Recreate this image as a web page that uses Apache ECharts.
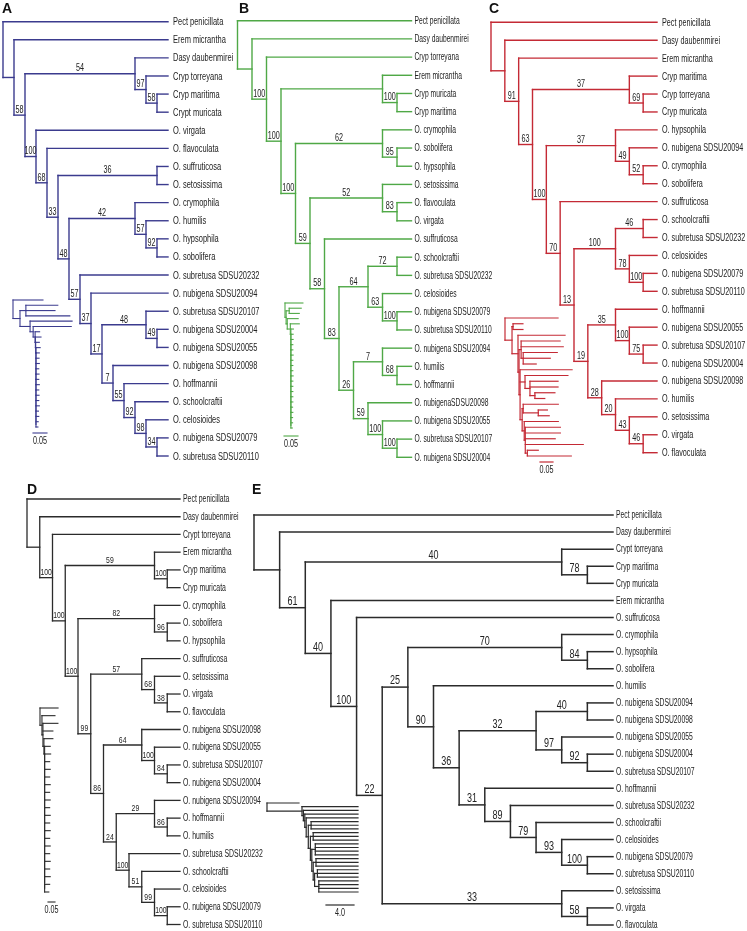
<!DOCTYPE html>
<html><head><meta charset="utf-8">
<script src="https://cdn.jsdelivr.net/npm/echarts@6/dist/echarts.min.js"></script>
<style>html,body{margin:0;padding:0;background:#fff}#c{width:747px;height:931px}</style>
</head><body><div id="c"></div>
<script>
// ---------- DATA: cladograms, rows = [node, parent, bootstrap support] ----------
const treeA = [
['#0',null,''],['Pect penicillata','#0',''],['#1','#0',''],['Erem micrantha','#1',''],
['#2','#1','58'],['#3','#2','54'],['Dasy daubenmirei','#3',''],['#5','#3','97'],['Cryp torreyana','#5',''],
['#6','#5','58'],['Cryp maritima','#6',''],['Crypt muricata','#6',''],
['#4','#2','100'],['O. virgata','#4',''],['#7','#4','68'],['O. flavoculata','#7',''],['#8','#7','33'],
['#9','#8','36'],['O. suffruticosa','#9',''],['O. setosissima','#9',''],
['#10','#8','48'],['#11','#10','42'],['O. crymophila','#11',''],['#13','#11','57'],['O. humilis','#13',''],
['#14','#13','92'],['O. hypsophila','#14',''],['O. sobolifera','#14',''],
['#12','#10','57'],['O. subretusa SDSU20232','#12',''],['#15','#12','37'],['O. nubigena SDSU20094','#15',''],
['#16','#15','17'],['#17','#16','48'],['O. subretusa SDSU20107','#17',''],['#19','#17','49'],
['O. nubigena SDSU20004','#19',''],['O. nubigena SDSU20055','#19',''],
['#18','#16','7'],['O. nubigena SDSU20098','#18',''],['#20','#18','55'],['O. hoffmannii','#20',''],
['#21','#20','92'],['O. schoolcraftii','#21',''],['#22','#21','98'],['O. celosioides','#22',''],
['#23','#22','34'],['O. nubigena SDSU20079','#23',''],['O. subretusa SDSU20110','#23','']
];
const treeB = [
['#0',null,''],['Pect penicillata','#0',''],['#1','#0',''],['Dasy daubenmirei','#1',''],
['#2','#1','100'],['Cryp torreyana','#2',''],['#3','#2','100'],['#4','#3',''],['Erem micrantha','#4',''],
['#5','#4','100'],['Cryp muricata','#5',''],['Cryp maritima','#5',''],
['#6','#3','100'],['#7','#6','62'],['O. crymophila','#7',''],['#8','#7','95'],['O. sobolifera','#8',''],['O. hypsophila','#8',''],
['#9','#6','59'],['#10','#9','52'],['O. setosissima','#10',''],['#11','#10','83'],['O. flavoculata','#11',''],['O. virgata','#11',''],
['#12','#9','58'],['O. suffruticosa','#12',''],['#13','#12','83'],['#14','#13','64'],['#15','#14','72'],
['O. schoolcraftii','#15',''],['O. subretusa SDSU20232','#15',''],['#16','#14','63'],['O. celosioides','#16',''],
['#17','#16','100'],['O. nubigena SDSU20079','#17',''],['O. subretusa SDSU20110','#17',''],
['#18','#13','26'],['#19','#18','7'],['O. nubigena SDSU20094','#19',''],['#20','#19','68'],['O. humilis','#20',''],['O. hoffmannii','#20',''],
['#21','#18','59'],['O. nubigenaSDSU20098','#21',''],['#22','#21','100'],['O. nubigena SDSU20055','#22',''],
['#23','#22','100'],['O. subretusa SDSU20107','#23',''],['O. nubigena SDSU20004','#23','']
];
const treeC = [
['#0',null,''],['Pect penicillata','#0',''],['#1','#0',''],['Dasy daubenmirei','#1',''],
['#2','#1','91'],['Erem micrantha','#2',''],['#3','#2','63'],['#4','#3','37'],['Cryp maritima','#4',''],
['#5','#4','69'],['Cryp torreyana','#5',''],['Cryp muricata','#5',''],
['#6','#3','100'],['#7','#6','37'],['O. hypsophila','#7',''],['#8','#7','49'],['O. nubigena SDSU20094','#8',''],
['#9','#8','52'],['O. crymophila','#9',''],['O. sobolifera','#9',''],
['#10','#6','70'],['O. suffruticosa','#10',''],['#11','#10','13'],['#12','#11','100'],['#13','#12','46'],
['O. schoolcraftii','#13',''],['O. subretusa SDSU20232','#13',''],['#14','#12','78'],['O. celosioides','#14',''],
['#15','#14','100'],['O. nubigena SDSU20079','#15',''],['O. subretusa SDSU20110','#15',''],
['#16','#11','19'],['#17','#16','35'],['O. hoffmannii','#17',''],['#18','#17','100'],['O. nubigena SDSU20055','#18',''],
['#19','#18','75'],['O. subretusa SDSU20107','#19',''],['O. nubigena SDSU20004','#19',''],
['#20','#16','28'],['O. nubigena SDSU20098','#20',''],['#21','#20','20'],['O. humilis','#21',''],
['#22','#21','43'],['O. setosissima','#22',''],['#23','#22','46'],['O. virgata','#23',''],['O. flavoculata','#23','']
];
const treeD = [
['#0',null,''],['Pect penicillata','#0',''],['#1','#0',''],['Dasy daubenmirei','#1',''],
['#2','#1','100'],['Crypt torreyana','#2',''],['#3','#2','100'],['#4','#3','59'],['Erem micrantha','#4',''],
['#5','#4','100'],['Cryp maritima','#5',''],['Cryp muricata','#5',''],
['#6','#3','100'],['#7','#6','82'],['O. crymophila','#7',''],['#8','#7','96'],['O. sobolifera','#8',''],['O. hypsophila','#8',''],
['#9','#6','99'],['#10','#9','57'],['O. suffruticosa','#10',''],['#11','#10','68'],['O. setosissima','#11',''],
['#12','#11','38'],['O. virgata','#12',''],['O. flavoculata','#12',''],
['#13','#9','86'],['#14','#13','64'],['O. nubigena SDSU20098','#14',''],['#15','#14','100'],['O. nubigena SDSU20055','#15',''],
['#16','#15','84'],['O. subretusa SDSU20107','#16',''],['O. nubigena SDSU20004','#16',''],
['#17','#13','24'],['#18','#17','29'],['O. nubigena SDSU20094','#18',''],['#19','#18','86'],['O. hoffmannii','#19',''],['O. humilis','#19',''],
['#20','#17','100'],['O. subretusa SDSU20232','#20',''],['#21','#20','51'],['O. schoolcraftii','#21',''],
['#22','#21','99'],['O. celosioides','#22',''],['#23','#22','100'],['O. nubigena SDSU20079','#23',''],['O. subretusa SDSU20110','#23','']
];
const treeE = [
['#0',null,''],['Pect penicillata','#0',''],['#1','#0',''],['Dasy daubenmirei','#1',''],
['#2','#1','61'],['#3','#2','40'],['Crypt torreyana','#3',''],['#5','#3','78'],['Cryp maritima','#5',''],['Cryp muricata','#5',''],
['#4','#2','40'],['Erem micrantha','#4',''],['#6','#4','100'],['O. suffruticosa','#6',''],['#7','#6','22'],
['#8','#7','25'],['#10','#8','70'],['O. crymophila','#10',''],['#12','#10','84'],['O. hypsophila','#12',''],['O. sobolifera','#12',''],
['#11','#8','90'],['O. humilis','#11',''],['#13','#11','36'],['#14','#13','32'],['#16','#14','40'],
['O. nubigena SDSU20094','#16',''],['O. nubigena SDSU20098','#16',''],['#17','#14','97'],['O. nubigena SDSU20055','#17',''],
['#18','#17','92'],['O. nubigena SDSU20004','#18',''],['O. subretusa SDSU20107','#18',''],
['#15','#13','31'],['O. hoffmannii','#15',''],['#19','#15','89'],['O. subretusa SDSU20232','#19',''],['#20','#19','79'],
['O. schoolcraftii','#20',''],['#21','#20','93'],['O. celosioides','#21',''],['#22','#21','100'],
['O. nubigena SDSU20079','#22',''],['O. subretusa SDSU20110','#22',''],
['#9','#7','33'],['O. setosissima','#9',''],['#23','#9','58'],['O. virgata','#23',''],['O. flavoculata','#23','']
];
// ---------- DATA: inset phylograms, rows = [node, parent, branch length] ----------
const physA = [
['r',null,0],['k0','r',0.107],['n1','r',0.025],['a','n1',0.021],['k1','a',0.114],['k2','a',0.104],['k3','a',0.157],
['n2','n1',0.036],['k4','n2',0.15],['n3','n2',0.011],['k5','n3',0.136],['c1','n3',0.007],
['u1','c1',0.016],['c2','c1',0.001],['u2','c2',0.02],['c3','c2',0.001],['u3','c3',0.013],['c4','c3',0.001],['u4','c4',0.015],
['c5','c4',0.0],['u5','c5',0.012],['c6','c5',0.0],['u6','c6',0.011],['c7','c6',0.0],['u7','c7',0.012],['c8','c7',0.0],['u8','c8',0.01],
['c9','c8',0.0],['u9','c9',0.011],['c10','c9',0.0],['u10','c10',0.01],['c11','c10',0.0],['u11','c11',0.012],['c12','c11',0.0],['u12','c12',0.01],
['c13','c12',0.0],['u13','c13',0.011],['c14','c13',0.0],['u14','c14',0.01],['c15','c14',0.0],['u15','c15',0.012],['c16','c15',0.0],['u16','c16',0.009],
['c17','c16',0.0],['u17','c17',0.01],['c18','c17',0.0],['u18','c18',0.008],['u19','c18',0.007]
];
const physB = [
['r',null,0],['k0','r',0.064],['n1','r',0.004],['a','n1',0.011],['k1','a',0.043],['k2','a',0.036],
['n2','n1',0.004],['k3','n2',0.039],['n3','n2',0.011],['k4','n3',0.032],['c1','n3',0.002],
['u1','c1',0.009],['c2','c1',0.0],['u2','c2',0.008],['c3','c2',0.0],['u3','c3',0.008],['c4','c3',0.0],['u4','c4',0.007],
['c5','c4',0.0],['u5','c5',0.007],['c6','c5',0.0],['u6','c6',0.008],['c7','c6',0.0],['u7','c7',0.007],['c8','c7',0.0],['u8','c8',0.007],
['c9','c8',0.0],['u9','c9',0.007],['c10','c9',0.0],['u10','c10',0.008],['c11','c10',0.0],['u11','c11',0.007],['c12','c11',0.0],['u12','c12',0.007],
['c13','c12',0.0],['u13','c13',0.007],['c14','c13',0.0],['u14','c14',0.007],['c15','c14',0.0],['u15','c15',0.007],['c16','c15',0.0],['u16','c16',0.006],
['c17','c16',0.0],['u17','c17',0.007],['c18','c17',0.0],['u18','c18',0.006],['c19','c18',0.0],['u19','c19',0.006],['u20','c19',0.005]
];
const physC = [
['r',null,0],['k0','r',0.204],['n1','r',0.027],
['a','n1',0.004],['k1','a',0.038],['k2','a',0.038],
['b','n1',0.023],['k3','b',0.181],['c','b',0.004],
['d','c',0.008],['k4','d',0.15],['k5','d',0.162],['f','d',0.008],['k6','f',0.131],['k7','f',0.104],['k8','f',0.05],
['e','c',0.004],['k9','e',0.2],['g','e',0.019],['k10','g',0.165],['i','g',0.019],['k11','i',0.108],['k12','i',0.108],
['j','i',0.019],['k13','j',0.077],['k14','j',0.038],
['h','e',0.008],['m','h',0.004],['k15','m',0.135],['o','m',0.058],['k16','o',0.035],['k17','o',0.042],
['nn','h',0.008],['k18','nn',0.131],['p','nn',0.004],['k19','p',0.135],['k20','p',0.135],['k21','p',0.115],['k22','p',0.223],
['q','p',0.008],['k23','q',0.042],['k24','q',0.169]
];
const physD = [
['r',null,0],['k0','r',0.129],['n1','r',0.014],['k1','n1',0.093],['n2','n1',0.007],['k2','n2',0.107],['k3','n2',0.071],
['n3','n2',0.007],['k4','n3',0.064],['c1','n3',0.005],
['u1','c1',0.04],['c2','c1',0.0],['u2','c2',0.043],['c3','c2',0.0],['u3','c3',0.036],['c4','c3',0.0],['u4','c4',0.04],
['c5','c4',0.0],['u5','c5',0.036],['c6','c5',0.0],['u6','c6',0.04],['c7','c6',0.0],['u7','c7',0.036],['c8','c7',0.0],['u8','c8',0.04],
['c9','c8',0.0],['u9','c9',0.036],['c10','c9',0.0],['u10','c10',0.04],['c11','c10',0.0],['u11','c11',0.036],['c12','c11',0.0],['u12','c12',0.04],
['c13','c12',0.0],['u13','c13',0.036],['c14','c13',0.0],['u14','c14',0.04],['c15','c14',0.0],['u15','c15',0.036],['c16','c15',0.0],['u16','c16',0.04],
['c17','c16',0.0],['u17','c17',0.036],['c18','c17',0.0],['u18','c18',0.04],['c19','c18',0.0],['u19','c19',0.036],['u20','c19',0.03]
];
const physE = [
['r',null,0],['t0','r',4.57],['B','r',5.0],['t1','B',8.0],['C','B',0.2],['t2','C',7.8],['D','C',0.2],['t3','D',7.6],
['Ea','D',0.2],['t4','Ea',7.4],['F','Ea',0.3],['G','F',0.4],['t5','G',6.7],['t6','G',6.7],['t7','G',6.7],
['H','F',0.3],['I','H',0.4],['t8','I',6.4],['t9','I',6.4],['t10','I',6.4],['J','H',0.2],['K','J',0.5],
['t11','K',6.1],['t12','K',6.1],['t13','K',6.1],['t14','K',6.1],['L','J',0.2],['M','L',0.4],['t15','M',6.0],['t16','M',6.0],['t17','M',6.0],
['N','L',0.2],['O','N',0.4],['t18','O',5.8],['t19','O',5.8],['t20','O',5.8],['P','N',0.6],
['t21','P',5.6],['t22','P',5.6],['t23','P',5.6],['t24','P',5.6]
];
const scaleLabels = ['0.05','0.05','0.05','0.05','4.0'];
const scaleLengths = [0.05,0.05,0.05,0.05,4.0];
const panelLetters = ['A','B','C','D','E'];

// ---------- LAYOUT / STYLE ----------
const FONT = "'Liberation Sans',Arial,sans-serif";
const clados = [
 {rows:treeA, color:'#3b3b8e', x0:3,    x1:168,   y0:21.7, y1:456,   tipFont:11,  tipSx:0.68, tipDx:5, supFont:10, supSx:0.72, lw:1.4},
 {rows:treeB, color:'#4fa846', x0:237.5,x1:411.5, y0:20.7, y1:457.3, tipFont:10.5,tipSx:0.64, tipDx:3, supFont:10, supSx:0.72, lw:1.4},
 {rows:treeC, color:'#c42a35', x0:491,  x1:657,   y0:22.3, y1:452.7, tipFont:11,  tipSx:0.655,tipDx:5, supFont:10, supSx:0.72, lw:1.4},
 {rows:treeD, color:'#2b2b2b', x0:27,   x1:180,   y0:499,  y1:924.5, tipFont:10,  tipSx:0.69, tipDx:3, supFont:9.5,supSx:0.72, lw:1.3},
 {rows:treeE, color:'#2b2b2b', x0:254,  x1:613,   y0:515,  y1:925,   tipFont:10,  tipSx:0.68, tipDx:3, supFont:12, supSx:0.75, lw:1.5}
];
const insets = [
 {rows:physA, color:'#3b3b8e', x0:13,  y0:300, y1:427, ppu:280, barX:33,  barY:433, lw:1.1},
 {rows:physB, color:'#4fa846', x0:285, y0:303, y1:428, ppu:280, barX:284, barY:436, lw:1.1},
 {rows:physC, color:'#c42a35', x0:505, y0:318, y1:456, ppu:260, barX:540, barY:462, lw:1.2},
 {rows:physD, color:'#2b2b2b', x0:40,  y0:708, y1:892, ppu:140, barX:48,  barY:902, lw:1.1},
 {rows:physE, color:'#2b2b2b', x0:267, y0:803, y1:892, ppu:7,   barX:326, barY:905, lw:1.2}
];
const letterPos = [[2,2],[239,2],[489,2],[27,483],[252,483]];

function layoutTree(rows, phylo){
  const info={}; let root=null;
  rows.forEach(r=>{info[r[0]]={id:r[0],parent:r[1],v:r[2],kids:[]};});
  rows.forEach(r=>{ if(r[1]==null) root=r[0]; else info[r[1]].kids.push(r[0]); });
  let leaf=0; const order=[];
  (function rec(id, acc){
    const n=info[id];
    n.len = acc + (phylo && n.parent!=null ? n.v : 0);
    if(!n.kids.length){ n.y=leaf++; n.h=0; }
    else {
      n.kids.forEach(k=>rec(k,n.len));
      n.y=(info[n.kids[0]].y+info[n.kids[n.kids.length-1]].y)/2;
      n.h=1+Math.max(...n.kids.map(k=>info[k].h));
    }
    order.push(n);
  })(root,0);
  const H=info[root].h;
  order.forEach(n=>{ n.x = phylo ? n.len : H-n.h; });
  const segs=[];
  order.forEach(n=>{
    if(n.parent!=null){ const p=info[n.parent]; segs.push([p.x,n.y,n.x,n.y]); }
    if(n.kids.length){ segs.push([n.x,info[n.kids[0]].y,n.x,info[n.kids[n.kids.length-1]].y]); }
  });
  return {info,order,root,H,n:leaf,segs};
}

const grids=[], xAxes=[], yAxes=[], series=[];
function lineSeries(idx, segs, color, lw){
  return {type:'custom', coordinateSystem:'cartesian2d', xAxisIndex:idx, yAxisIndex:idx, silent:true, clip:false,
    animation:false, data:segs,
    renderItem:(p,api)=>{
      const a=api.coord([api.value(0),api.value(1)]), b=api.coord([api.value(2),api.value(3)]);
      return {type:'line', shape:{x1:a[0],y1:a[1],x2:b[0],y2:b[1]}, style:{stroke:color,lineWidth:lw,lineCap:'square'}};
    }};
}
function textSeries(idx, items, font, sx, align, vAlign, dx, dy){
  return {type:'custom', coordinateSystem:'cartesian2d', xAxisIndex:idx, yAxisIndex:idx, silent:true, clip:false,
    animation:false, data:items.map(d=>[d[0],d[1]]),
    renderItem:(p,api)=>{
      const d=items[p.dataIndex]; const c=api.coord([d[0],d[1]]);
      return {type:'text', x:c[0]+dx, y:c[1]+dy, scaleX:sx, scaleY:1,
        style:{text:d[2], font:font, fill:'#222', align:align, verticalAlign:vAlign}};
    }};
}

clados.forEach((P,i)=>{
  const T=layoutTree(P.rows,false);
  const idx=grids.length;
  grids.push({left:P.x0, top:P.y0, width:P.x1-P.x0, height:P.y1-P.y0});
  xAxes.push({type:'value', gridIndex:idx, min:0, max:T.H, show:false});
  yAxes.push({type:'value', gridIndex:idx, min:0, max:T.n-1, inverse:true, show:false});
  series.push(lineSeries(idx, T.segs, P.color, P.lw));
  const tips=[], sups=[];
  T.order.forEach(n=>{
    if(!n.kids.length) tips.push([n.x,n.y,n.id]);
    else if(n.v && n.parent!=null){ const p=T.info[n.parent]; sups.push([(p.x+n.x)/2,n.y,n.v]); }
  });
  series.push(textSeries(idx, tips, P.tipFont+'px '+FONT, P.tipSx, 'left','middle', P.tipDx, 0.5));
  series.push(textSeries(idx, sups, P.supFont+'px '+FONT, P.supSx, 'center','bottom', 0, 0));
});

insets.forEach((P,i)=>{
  const T=layoutTree(P.rows,true);
  const idx=grids.length;
  const s=(P.y1-P.y0)/(T.n-1);
  const W=120, Hh=P.barY+14-P.y0;
  grids.push({left:P.x0, top:P.y0, width:W, height:Hh});
  xAxes.push({type:'value', gridIndex:idx, min:0, max:W/P.ppu, show:false});
  yAxes.push({type:'value', gridIndex:idx, min:0, max:Hh/s, inverse:true, show:false});
  const bx=(P.barX-P.x0)/P.ppu, by=(P.barY-P.y0)/s;
  const segs=T.segs.concat([[bx,by,bx+scaleLengths[i],by]]);
  series.push(lineSeries(idx, segs, P.color, P.lw));
  series.push(textSeries(idx, [[bx+scaleLengths[i]/2,by,scaleLabels[i]]], '10px '+FONT, 0.72, 'center','top', 0, 3));
});

const chart=echarts.init(document.getElementById('c'),null,{renderer:'canvas'});
chart.setOption({
  animation:false, backgroundColor:'#fff',
  grid:grids, xAxis:xAxes, yAxis:yAxes, series:series,
  graphic: panelLetters.map((t,i)=>({type:'text', left:letterPos[i][0], top:letterPos[i][1],
    style:{text:t, font:"bold 14px 'Liberation Sans',Arial,sans-serif", fill:'#111'}}))
});
</script></body></html>
